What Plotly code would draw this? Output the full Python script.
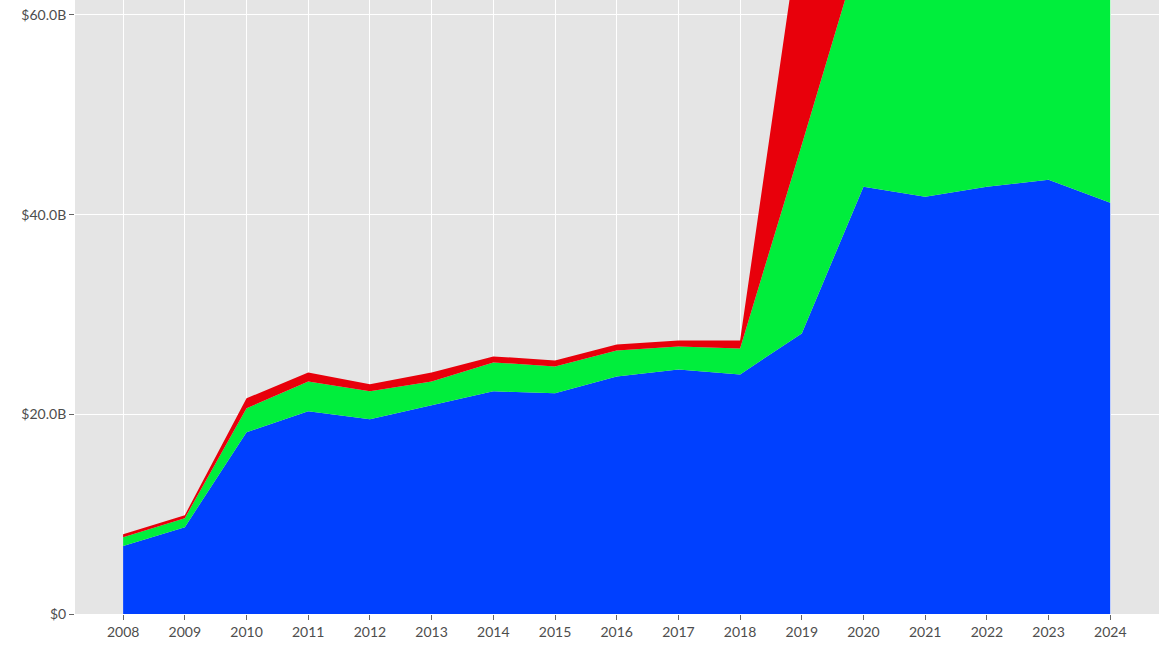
import plotly.graph_objects as go

# values in billions of dollars
years = list(range(2008, 2025))
blue_vals = [6.8, 8.7, 18.2, 20.3, 19.5, 20.9, 22.3, 22.1, 23.8, 24.5, 24.0,
             28.1, 42.8, 41.8, 42.8, 43.5, 41.2]
green_vals = [0.9, 0.9, 2.4, 3.0, 2.8, 2.4, 2.9, 2.7, 2.6, 2.3, 2.6,
              18.9, 24.9, 26.0, 27.0, 28.0, 29.0]
red_vals = [0.3, 0.3, 1.0, 0.9, 0.7, 0.9, 0.6, 0.6, 0.6, 0.6, 0.8,
            23.0, 8.0, 6.0, 6.0, 6.0, 6.0]

y_ticks = [0, 20, 40, 60]
y_labels = ["$0", "$20.0B", "$40.0B", "$60.0B"]

fig = go.Figure()
for vals, color in [(blue_vals, "#0040ff"), (green_vals, "#00ee3c"), (red_vals, "#e8000b")]:
    fig.add_trace(go.Scatter(x=years, y=vals, mode="lines", stackgroup="one",
                             line=dict(width=0, color=color), fillcolor=color,
                             hoverinfo="skip"))

fig.update_layout(
    width=1169, height=650,
    margin=dict(l=75, r=10, t=0, b=36),
    paper_bgcolor="white", plot_bgcolor="#e5e5e5",
    showlegend=False,
    font=dict(family="Lato, Open Sans, sans-serif", size=14, color="#4d4d4d"),
)
fig.update_xaxes(range=[2007.22, 2024.79], tickvals=years, showgrid=True,
                 gridcolor="white", gridwidth=1, zeroline=False, automargin=False,
                 ticks="outside", ticklen=5, tickcolor="#666")
fig.update_yaxes(range=[0, 61.5], tickvals=y_ticks, ticktext=y_labels,
                 showgrid=True, gridcolor="white", gridwidth=1, zeroline=False,
                 automargin=False, ticks="outside", ticklen=5, tickcolor="#666")

# page body has a default 8px margin; drop it so the figure sits at the corner
fig.write_html("out.html", config={"displayModeBar": False},
               post_script="document.body.style.margin='0';")
